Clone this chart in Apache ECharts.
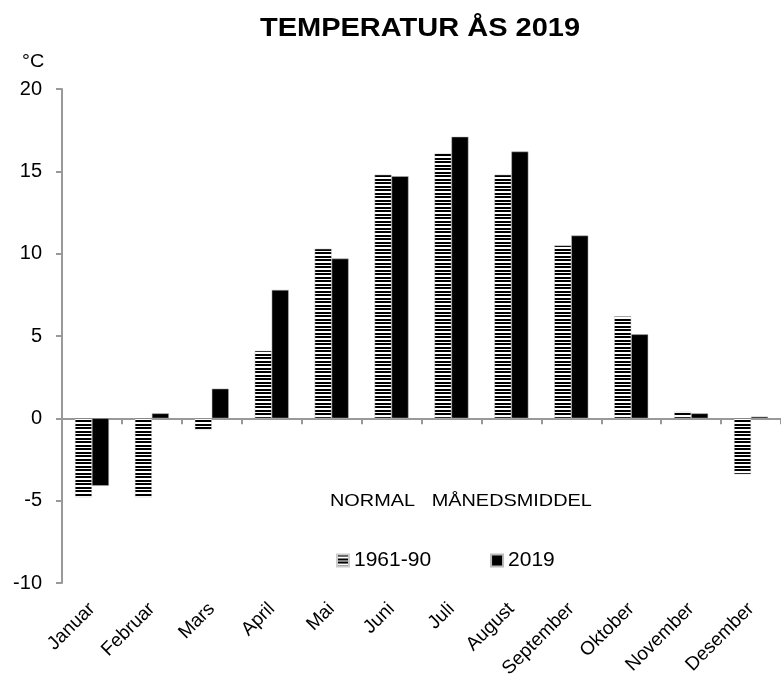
<!DOCTYPE html>
<html>
<head>
<meta charset="utf-8">
<script src="https://cdn.jsdelivr.net/npm/echarts@6/dist/echarts.min.js"></script>
<style>
html,body{margin:0;padding:0;background:#fff;}
#chart{width:781px;height:687px;}
</style>
</head>
<body>
<div id="chart"></div>
<script>
var months = ['Januar','Februar','Mars','April','Mai','Juni','Juli','August','September','Oktober','November','Desember'];
var normal = [-4.8,-4.8,-0.7,4.1,10.3,14.8,16.1,14.8,10.5,6.2,0.4,-3.4];		// 1961-90
var year2019 = [-4.1,0.3,1.8,7.8,9.7,14.7,17.1,16.2,11.1,5.1,0.3,0.1];
var yTicks = {min:-10,max:20,interval:5};

// stripete mønster for normalen
var cv = document.createElement('canvas');
cv.width = 4;
cv.height = 7;
var ctx = cv.getContext('2d');
ctx.fillStyle = '#fff';
ctx.fillRect(0,0,4,7);
ctx.fillStyle = '#000';
ctx.fillRect(0,0,4,2);
ctx.fillRect(0,4,4,2);

var font = '"Liberation Sans", Arial, sans-serif';
var myChart = echarts.init(document.getElementById('chart'));

var option = {
	animation:false,
	backgroundColor:'#fff',
	graphic:[
		{type:'text',x:420,y:29,scaleX:1.16,style:{text:'TEMPERATUR ÅS 2019',font:'bold 25px '+font,fill:'#000',align:'center',verticalAlign:'middle'}},
		{type:'text',x:22,y:62,scaleX:1.1,style:{text:'°C',font:'18px '+font,fill:'#000',verticalAlign:'middle'}},
		{type:'text',x:330,y:501,scaleX:1.17,style:{text:'NORMAL   MÅNEDSMIDDEL',font:'17px '+font,fill:'#000',verticalAlign:'middle'}}
	],
	legend:{
		left:331,
		top:545,
		itemWidth:12,
		itemHeight:12,
		itemGap:59,
		icon:'rect',
		textStyle:{fontFamily:font,fontSize:21,color:'#000'},
		data:['1961-90','2019']
	},
	grid:{left:62,top:89,width:725,height:494},
	xAxis:[{
		type:'category',
		data:months,
		axisLine:{onZero:true,lineStyle:{color:'#999',width:2}},
		axisTick:{show:true,interval:0,length:6,lineStyle:{color:'#999',width:2}},
		axisLabel:{show:true,interval:0,formatter:function(){return '';}}
	},{
		type:'category',
		data:months,
		position:'bottom',
		axisLine:{show:false},
		axisTick:{show:false},
		axisLabel:{rotate:45,margin:23,interval:0,fontFamily:font,fontSize:19,color:'#000'}
	}],
	yAxis:{
		type:'value',
		min:yTicks.min,
		max:yTicks.max,
		interval:yTicks.interval,
		splitLine:{show:false},
		axisLine:{show:true,lineStyle:{color:'#999',width:2}},
		axisTick:{show:true,length:6,lineStyle:{color:'#999',width:2}},
		axisLabel:{margin:20,fontFamily:font,fontSize:20,color:'#000'}
	},
	series:[{
		name:'1961-90',
		type:'bar',
		data:normal,
		barWidth:17,
		barGap:'0%',
		itemStyle:{color:{image:cv,repeat:'repeat'},borderColor:'#ccc',borderWidth:0.5}
	},{
		name:'2019',
		type:'bar',
		data:year2019,
		barWidth:17,
		itemStyle:{color:'#000',borderColor:'#bbb',borderWidth:0.5}
	}]
};
myChart.setOption(option);
</script>
</body>
</html>
